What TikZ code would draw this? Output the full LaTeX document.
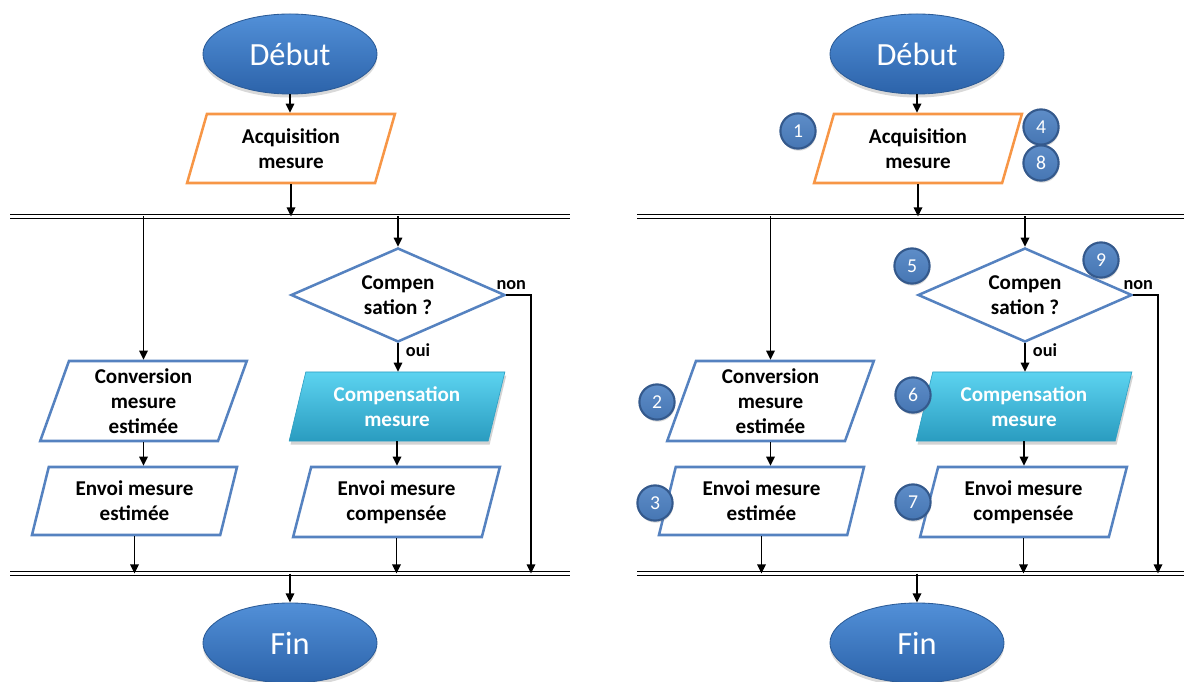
\documentclass[tikz,border=0pt]{standalone}
\usepackage{fontspec}
\setmainfont{Carlito}
\usetikzlibrary{arrows.meta,shapes.geometric,shadows}
\definecolor{ovaltop}{HTML}{5290D8}
\definecolor{ovalbot}{HTML}{2C63AA}
\definecolor{ovalline}{HTML}{2B5B97}
\definecolor{boxline}{HTML}{5582C0}
\definecolor{acqline}{HTML}{F79646}
\definecolor{cyantop}{HTML}{5CD3F0}
\definecolor{cyanbot}{HTML}{2A9CC0}
\definecolor{badgetop}{HTML}{5E8DC8}
\definecolor{badgebot}{HTML}{4676B3}
\definecolor{badgeline}{HTML}{34598C}

\begin{document}
\begin{tikzpicture}[x=0.025cm,y=-0.025cm,
  oval/.style={ellipse, minimum width=4.35cm, minimum height=2cm, inner sep=0pt,
    top color=ovaltop, bottom color=ovalbot, draw=ovalline, line width=0.6pt,
    text=white, font=\fontsize{23}{27}\selectfont,
    drop shadow={opacity=0.3, shadow xshift=0pt, shadow yshift=-2.5pt}},
  iobox/.style={trapezium, trapezium left angle=74, trapezium right angle=106,
    trapezium stretches=true, minimum width=5.175cm, minimum height=1.725cm,
    inner sep=0pt, draw=boxline, line width=1.8pt, fill=white, align=center,
    font=\fontsize{15}{18}\selectfont\bfseries},
  compbox/.style={iobox, draw=cyanbot, line width=0.4pt, top color=cyantop,
    bottom color=cyanbot, text=white, minimum width=5.4cm,
    drop shadow={opacity=0.35, shadow xshift=1pt, shadow yshift=-2.5pt}},
  decision/.style={diamond, aspect=2.2, minimum width=5.35cm, minimum height=2.35cm,
    inner sep=0pt, draw=boxline, line width=1.8pt, fill=white, align=center,
    font=\fontsize{15}{18}\selectfont\bfseries},
  badge/.style={circle, minimum size=0.88cm, inner sep=0pt, top color=badgetop,
    bottom color=badgebot, draw=badgeline, line width=1.5pt, text=white,
    font=\fontsize{14}{16}\selectfont,
    drop shadow={opacity=0.3, shadow xshift=0.5pt, shadow yshift=-1.5pt}},
  lbl/.style={font=\fontsize{13}{15}\selectfont\bfseries, inner sep=1pt},
  bar/.style={double, double distance=1.5pt, line width=0.9pt},
  arr/.style={line width=1.3pt, -{Triangle[length=6.5pt,width=6pt]}}]
  \useasboundingbox (0,0) rectangle (1184,682);

  \foreach \side/\dx in {L/0,R/627}{
  \begin{scope}[shift={(\dx,0)}, name prefix=\side-]
    % Start and acquisition
    \node[oval] (debut) at (290,54) {Début};
    \node[iobox, draw=acqline, minimum width=5.2cm] (acq) at (291,148.5) {Acquisition\\mesure};
    \coordinate (barTl) at (10,216.5);
    \coordinate (barTr) at (570,216.5);
    \draw[bar] (barTl) -- (barTr);

    % Left branch
    \node[iobox, minimum height=2cm] (conv) at (143.5,401) {Conversion\\mesure\\estimée};
    \node[iobox, minimum height=1.7cm] (envE) at (134.5,501) {Envoi mesure\\estimée};

    % Right branch
    \node[decision] (dec) at (398,295) {Compen\\sation ?};
    \node[compbox] (comp) at (397,406.5) {Compensation\\mesure};
    \node[iobox, minimum height=1.75cm] (envC) at (396.5,502) {Envoi mesure\\compensée};
    \coordinate (nonx) at (531,295);

    % End
    \coordinate (barBl) at (10,573.5);
    \coordinate (barBr) at (570,573.5);
    \draw[bar] (barBl) -- (barBr);
    \node[oval] (fin) at (290,643) {Fin};

    % Connectors
    \draw[arr] (debut.south) -- (debut.south |- acq.north);
    \draw[arr] (acq.south) -- (acq.south |- barTl);
    \draw[arr] (conv.north |- barTl) -- (conv.north);
    \draw[arr] (dec.north |- barTl) -- (dec.north);
    \draw[arr] (dec.south) -- node[lbl, right, pos=0.25, xshift=4pt] {oui} (dec.south |- comp.north);
    \draw[arr] (dec.east) -- node[lbl, above, pos=0.2, yshift=2pt] {non} (nonx) -- (nonx |- barBl);
    \draw[arr] (conv.south) -- (conv.south |- envE.north);
    \draw[arr] (envE.south) -- (envE.south |- barBl);
    \draw[arr] (comp.south) -- (comp.south |- envC.north);
    \draw[arr] (envC.south) -- (envC.south |- barBl);
    \draw[arr] (fin.north |- barBl) -- (fin.north);
  \end{scope}
  }

  % Step numbers
  \node[badge] (b1) at (798,131) {1};
  \node[badge] (b2) at (657,402) {2};
  \node[badge] (b3) at (655,503) {3};
  \node[badge] (b4) at (1041,127) {4};
  \node[badge] (b5) at (912,266) {5};
  \node[badge] (b6) at (913,395) {6};
  \node[badge] (b7) at (913,502) {7};
  \node[badge] (b8) at (1041,163) {8};
  \node[badge] (b9) at (1101,260) {9};
\end{tikzpicture}
\end{document}
